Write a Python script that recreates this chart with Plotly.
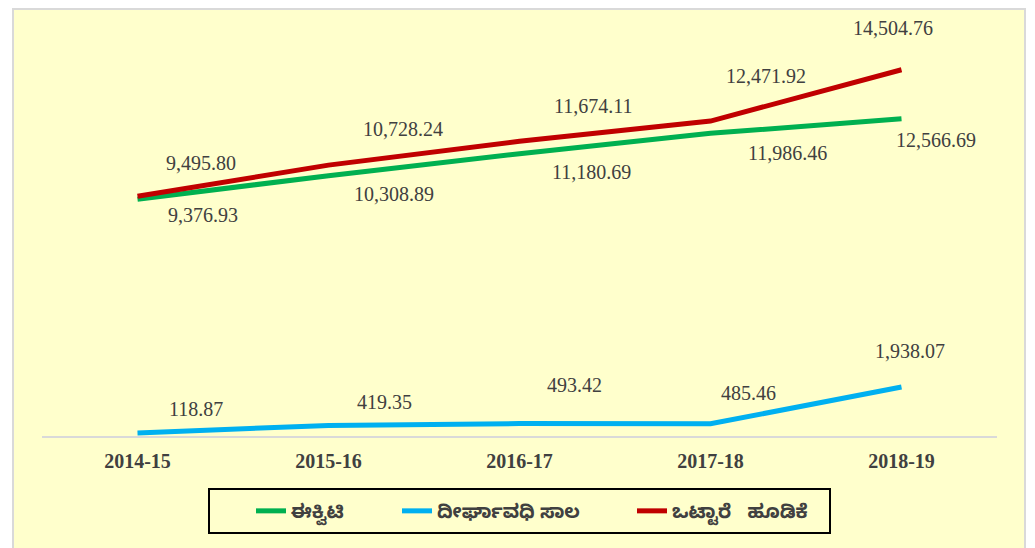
import plotly.graph_objects as go

years = ["2014-15", "2015-16", "2016-17", "2017-18", "2018-19"]
equity = [9376.93, 10308.89, 11180.69, 11986.46, 12566.69]
long_term_loan = [118.87, 419.35, 493.42, 485.46, 1938.07]
total_investment = [9495.80, 10728.24, 11674.11, 12471.92, 14504.76]

series_names = ["ಈಕ್ವಿಟಿ", "ದೀರ್ಘಾವಧಿ ಸಾಲ", "ಒಟ್ಟಾರೆ  ಹೂಡಿಕೆ"]
series_values = [equity, long_term_loan, total_investment]
colors = ["#00B050", "#00B0F0", "#C00000"]

# label pixel offsets (style/position only)
label_shifts = [
    [(65, -16), (65, -18), (72, -18), (77, -20), (34, -21)],
    [(58, 24), (56, 23), (55, 39), (38, 31), (8, 36)],
    [(63, 33), (74, 36), (74, 35), (55, 45), (-9, 42)],
]
legend_ids = ["legend", "legend2", "legend3"]
legend_text_px = [301, 447, 682]  # approx left edge of legend text (image px)

fig = go.Figure()
for name, vals, col, lid in zip(series_names, series_values, colors, legend_ids):
    fig.add_trace(go.Scatter(
        x=years, y=vals, name=name.replace("  ", "\u00a0\u00a0\u00a0"),
        mode="lines", line=dict(color=col, width=5), legend=lid,
    ))

annotations = []
for vals, shifts in zip(series_values, label_shifts):
    for xcat, v, (dx, dy) in zip(years, vals, shifts):
        annotations.append(dict(
            x=xcat, y=v, xref="x", yref="y", text=f"{v:,.2f}",
            showarrow=False, xshift=dx, yshift=dy,
            font=dict(family="Liberation Serif, Times New Roman, serif", size=20, color="#404040"),
        ))

OFF = 8  # page body margin
W, H = 1035 - OFF, 548 - OFF
L, R, T, B = 42 - OFF, 1035 - 997, 32 - OFF, 548 - 436
pw = W - L - R
ph = H - T - B
def px_x(px):
    return (px - OFF - L) / pw
def px_y(py):
    return (H - B - (py - OFF)) / ph

legend_font = dict(family="Noto Sans Kannada, Noto Sans, sans-serif", size=19, color="#404040", weight="bold")
legends = {}
for lid, tx in zip(legend_ids, legend_text_px):
    legends[lid] = dict(
        orientation="h", x=px_x(tx - 50), xanchor="left", y=px_y(511), yanchor="middle",
        bgcolor="rgba(0,0,0,0)", borderwidth=0, font=legend_font,
    )

fig.update_layout(
    width=W, height=H,
    margin=dict(l=L, r=R, t=T, b=B),
    paper_bgcolor="white",
    plot_bgcolor="rgba(0,0,0,0)",
    annotations=annotations,
    shapes=[
        dict(
            type="rect", xref="paper", yref="paper",
            x0=px_x(13), x1=px_x(1025), y0=px_y(OFF + 1), y1=px_y(570),
            fillcolor="#FFFFCC", line=dict(color="#D9D9D9", width=2), layer="below",
        ),
        dict(
            type="rect", xref="paper", yref="paper",
            x0=px_x(209), x1=px_x(830), y0=px_y(489), y1=px_y(533),
            fillcolor="rgba(0,0,0,0)", line=dict(color="black", width=2), layer="above",
        ),
    ],
    xaxis=dict(
        type="category", range=[-0.5, 4.5], showgrid=False, zeroline=False,
        showline=True, linecolor="#D9D9D9", linewidth=2,
        ticks="outside", ticklen=6, tickcolor="rgba(0,0,0,0)",
        tickfont=dict(family="Liberation Serif, Times New Roman, serif", size=20, color="#404040", weight="bold"),
    ),
    yaxis=dict(range=[0, 16000], visible=False, showgrid=False, zeroline=False),
    showlegend=True,
    **legends,
)

fig.write_html("out.html")
